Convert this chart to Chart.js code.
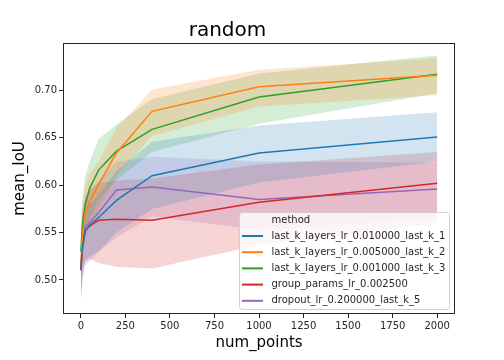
<!DOCTYPE html>
<html>
<head>
<meta charset="utf-8">
<script src="https://cdn.jsdelivr.net/npm/chart.js@4"></script>
<style>
	html, body { margin: 0; padding: 0; background: #fff; }
	#wrap { width: 504px; height: 360px; }
</style>
</head>
<body>
<div id="wrap"><canvas id="chart" width="504" height="360"></canvas></div>
<script>
"use strict";

const numPoints = [0, 10, 25, 50, 100, 200, 400, 1000, 2000];
const methods = [
	"last_k_layers_lr_0.010000_last_k_1",
	"last_k_layers_lr_0.005000_last_k_2",
	"last_k_layers_lr_0.001000_last_k_3",
	"group_params_lr_0.002500",
	"dropout_lr_0.200000_last_k_5"
];

// mean line per method
const meanBlue   = [0.512, 0.535, 0.552, 0.558, 0.566, 0.584, 0.610, 0.634, 0.651];
const meanOrange = [0.518, 0.550, 0.572, 0.583, 0.601, 0.634, 0.678, 0.704, 0.716];
const meanGreen  = [0.530, 0.560, 0.580, 0.597, 0.616, 0.636, 0.659, 0.693, 0.717];
const meanRed    = [0.510, 0.535, 0.552, 0.557, 0.563, 0.564, 0.563, 0.582, 0.602];
const meanPurple = [0.511, 0.540, 0.556, 0.561, 0.571, 0.595, 0.598, 0.585, 0.596];

// confidence band limits
const upperBlue   = [0.540, 0.560, 0.575, 0.580, 0.590, 0.615, 0.646, 0.663, 0.677];
const lowerBlue   = [0.478, 0.505, 0.520, 0.525, 0.530, 0.550, 0.575, 0.603, 0.625];
const upperOrange = [0.550, 0.575, 0.600, 0.612, 0.625, 0.660, 0.701, 0.722, 0.734];
const lowerOrange = [0.490, 0.525, 0.545, 0.555, 0.575, 0.610, 0.652, 0.683, 0.695];
const upperGreen  = [0.565, 0.590, 0.610, 0.625, 0.649, 0.664, 0.691, 0.718, 0.737];
const lowerGreen  = [0.490, 0.530, 0.550, 0.565, 0.585, 0.605, 0.635, 0.665, 0.697];
const upperRed    = [0.545, 0.570, 0.585, 0.595, 0.602, 0.605, 0.607, 0.622, 0.635];
const lowerRed    = [0.480, 0.510, 0.520, 0.522, 0.518, 0.514, 0.512, 0.537, 0.560];
const upperPurple = [0.540, 0.575, 0.590, 0.595, 0.605, 0.625, 0.630, 0.625, 0.624];
const lowerPurple = [0.475, 0.500, 0.515, 0.520, 0.530, 0.545, 0.567, 0.553, 0.565];

const xTicks = [0, 250, 500, 750, 1000, 1250, 1500, 1750, 2000];
const yTicks = [0.50, 0.55, 0.60, 0.65, 0.70];

const colors = ["#1f77b4", "#ff7f0e", "#2ca02c", "#d62728", "#9467bd"];
const means = [meanBlue, meanOrange, meanGreen, meanRed, meanPurple];
const uppers = [upperBlue, upperOrange, upperGreen, upperRed, upperPurple];
const lowers = [lowerBlue, lowerOrange, lowerGreen, lowerRed, lowerPurple];

const FONT = "'DejaVu Sans', sans-serif";

function toPoints(vals) {
	return numPoints.map((x, i) => ({x: x, y: vals[i]}));
}

function hexAlpha(hex, a) {
	const n = parseInt(hex.slice(1), 16);
	return `rgba(${(n >> 16) & 255},${(n >> 8) & 255},${n & 255},${a})`;
}

const datasets = [];
methods.forEach((m, i) => {
	datasets.push({
		label: m,
		data: toPoints(means[i]),
		borderColor: colors[i],
		borderWidth: 1.5,
		pointRadius: 0,
		fill: false,
		tension: 0
	});
});
methods.forEach((m, i) => {
	datasets.push({
		label: m + " upper",
		data: toPoints(uppers[i]),
		borderWidth: 0,
		borderColor: "rgba(0,0,0,0)",
		backgroundColor: hexAlpha(colors[i], 0.2),
		pointRadius: 0,
		fill: "+1",
		tension: 0
	});
	datasets.push({
		label: m + " lower",
		data: toPoints(lowers[i]),
		borderWidth: 0,
		borderColor: "rgba(0,0,0,0)",
		pointRadius: 0,
		fill: false,
		tension: 0
	});
});

// frame around plot + seaborn-like legend inside the axes
const framePlugin = {
	id: "frameAndLegend",
	afterDraw(chart) {
		const ctx = chart.ctx;
		const a = chart.chartArea;
		ctx.save();
		ctx.strokeStyle = "#262626";
		ctx.lineWidth = 1;
		ctx.strokeRect(a.left + 0.5, a.top + 0.5, a.right - a.left - 1, a.bottom - a.top - 1);

		const bx = 239.5, by = 212.5, bw = 210, bh = 97;
		ctx.beginPath();
		ctx.roundRect(bx, by, bw, bh, 3);
		ctx.fillStyle = "rgba(255,255,255,0.8)";
		ctx.fill();
		ctx.strokeStyle = "#d0d0d0";
		ctx.stroke();

		ctx.font = "10px " + FONT;
		ctx.textBaseline = "middle";
		ctx.fillStyle = "#262626";
		ctx.fillText("method", 271.5, 220.5);
		methods.forEach((m, i) => {
			const y = 236 + i * 16.2;
			ctx.strokeStyle = colors[i];
			ctx.lineWidth = 2;
			ctx.beginPath();
			ctx.moveTo(242, y);
			ctx.lineTo(263, y);
			ctx.stroke();
			ctx.fillStyle = "#262626";
			ctx.fillText(m, 271.5, y);
		});
		ctx.restore();
	}
};

new Chart(document.getElementById("chart"), {
	type: "line",
	data: {datasets: datasets},
	plugins: [framePlugin],
	options: {
		responsive: false,
		animation: false,
		layout: {padding: {left: 0, right: 49, top: 0, bottom: 0}},
		plugins: {
			legend: {display: false},
			tooltip: {enabled: false},
			title: {
				display: true,
				text: "random",
				color: "#000",
				font: {family: FONT, size: 20, weight: "normal"},
				padding: {top: 19, bottom: 0}
			},
			filler: {propagate: false}
		},
		scales: {
			x: {
				type: "linear",
				min: -100,
				max: 2100,
				afterBuildTicks: s => { s.ticks = xTicks.map(v => ({value: v})); },
				afterFit: s => { s.height = 46; },
				grid: {display: true, drawOnChartArea: false, drawTicks: true, tickLength: 4, color: "#262626"},
				border: {display: false},
				ticks: {color: "#262626", font: {family: FONT, size: 10}, padding: 2, maxRotation: 0, callback: v => String(v)},
				title: {display: true, text: "num_points", color: "#000", font: {family: FONT, size: 15}, padding: {top: 0, bottom: 8}}
			},
			y: {
				type: "linear",
				min: 0.4641,
				max: 0.7501,
				afterBuildTicks: s => { s.ticks = yTicks.map(v => ({value: v})); },
				afterFit: s => { s.width = 63; },
				grid: {display: true, drawOnChartArea: false, drawTicks: true, tickLength: 4, color: "#262626"},
				border: {display: false},
				ticks: {color: "#262626", font: {family: FONT, size: 10}, padding: 2, callback: v => v.toFixed(2)},
				title: {display: true, text: "mean_IoU", color: "#000", font: {family: FONT, size: 15}, padding: {top: 11, bottom: 0}}
			}
		}
	}
});
</script>
</body>
</html>
